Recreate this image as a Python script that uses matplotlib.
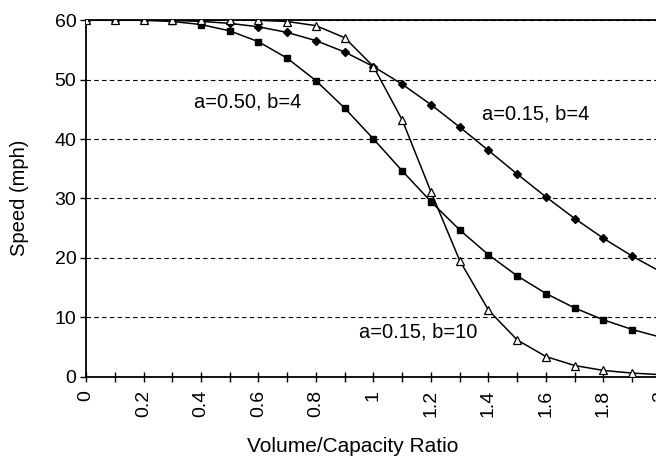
import matplotlib
matplotlib.use("Agg")
import matplotlib.pyplot as plt
from matplotlib.ticker import MultipleLocator

plt.rcParams['font.family'] = ['Liberation Sans', 'DejaVu Sans']

vc = [0.0, 0.1, 0.2, 0.3, 0.4, 0.5, 0.6, 0.7, 0.8, 0.9, 1.0,
      1.1, 1.2, 1.3, 1.4, 1.5, 1.6, 1.7, 1.8, 1.9, 2.0]
speed_a015_b4 = [60.0, 60.0, 59.99, 59.93, 59.77, 59.44, 58.86, 57.91, 56.53, 54.62, 52.17,
                 49.20, 45.77, 42.00, 38.07, 34.10, 30.26, 26.63, 23.30, 20.31, 17.65]
speed_a050_b4 = [60.0, 60.0, 59.95, 59.76, 59.24, 58.18, 56.35, 53.57, 49.80, 45.18, 40.00,
                 34.64, 29.46, 24.71, 20.54, 16.99, 14.03, 11.59, 9.60, 7.98, 6.67]
speed_a015_b10 = [60.0, 60.0, 60.0, 60.0, 60.0, 59.99, 59.95, 59.75, 59.05, 57.02, 52.17,
                  43.20, 31.11, 19.56, 11.24, 6.22, 3.43, 1.92, 1.10, 0.65, 0.39]

labels = ["a=0.50, b=4", "a=0.15, b=4", "a=0.15, b=10"]
label_pos = [(0.377, 46.2), (1.378, 44.2), (0.95, 7.6)]

fig = plt.figure(figsize=(6.56, 4.58), dpi=100)
ax = fig.add_axes([0.1311, 0.1769, 0.8765, 0.7794])

lw = 1.1
ax.plot(vc, speed_a015_b4, color='black', lw=lw, marker='D', ms=4,
        mfc='black', mec='black', zorder=3)
ax.plot(vc, speed_a050_b4, color='black', lw=lw, marker='s', ms=5,
        mfc='black', mec='black', zorder=3)
ax.plot(vc, speed_a015_b10, color='black', lw=lw, marker='^', ms=5.5,
        mfc='white', mec='black', mew=0.9, zorder=3)

for t, (x, y) in zip(labels, label_pos):
    ax.text(x, y, t, fontsize=14.5, ha='left', va='center', color='black')

ax.set_xlim(0, 2)
ax.set_ylim(0, 60)
ax.xaxis.set_minor_locator(MultipleLocator(0.1))
ax.yaxis.set_major_locator(MultipleLocator(10))
ax.set_xticks([0, 0.2, 0.4, 0.6, 0.8, 1.0, 1.2, 1.4, 1.6, 1.8, 2.0])
ax.set_xticklabels(["0", "0.2", "0.4", "0.6", "0.8", "1", "1.2", "1.4", "1.6", "1.8", "2"],
                   rotation=90)
ax.tick_params(axis='x', which='both', direction='inout', length=7, width=1,
               labelsize=14, pad=6)
ax.tick_params(axis='y', which='both', direction='out', length=4, width=1,
               labelsize=14, pad=3)

ax.grid(axis='y', which='major', color='black', linestyle=(0, (4, 3)), lw=0.8)
ax.set_axisbelow(True)
for s in ['left', 'bottom', 'top']:
    ax.spines[s].set_linewidth(1.3)
ax.spines['right'].set_visible(False)

ax.set_xlabel("Volume/Capacity Ratio", fontsize=15)
ax.xaxis.set_label_coords(0.5 * (248 + 457) / 656, -1 * 0, transform=fig.transFigure)
ax.xaxis.label.set_position((0.5 * (248 + 457) / 656, 1 - 446 / 458))
ax.xaxis.label.set_verticalalignment('center')
ax.set_ylabel("Speed (mph)", fontsize=14.5)
ax.yaxis.set_label_coords(20 / 656, 1 - 198 / 458, transform=fig.transFigure)
ax.yaxis.label.set_verticalalignment('center')

fig.savefig("out.png", dpi=100)
